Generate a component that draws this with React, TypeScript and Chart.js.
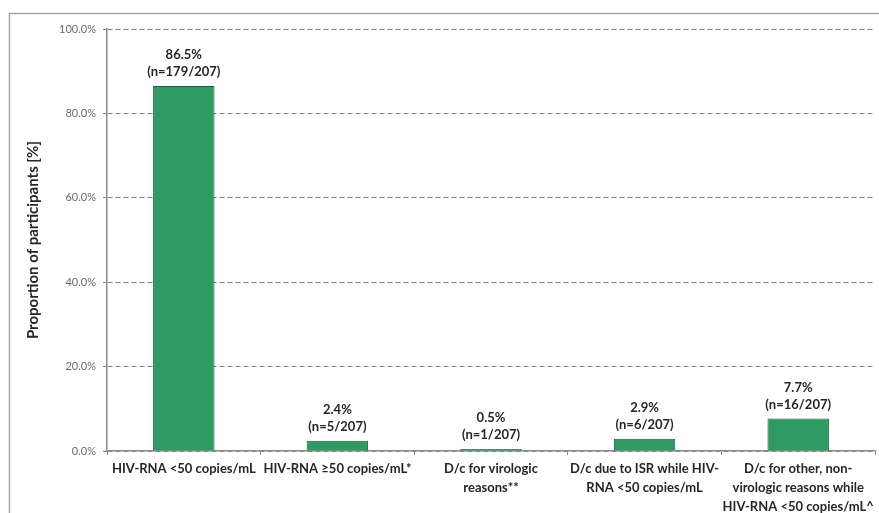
import React, { useEffect, useRef } from "react";
import { Chart, registerables } from "chart.js";

Chart.register(...registerables);

// Outcome categories (multi-line axis labels)
const categories: string[][] = [
  ["HIV-RNA <50 copies/mL"],
  ["HIV-RNA \u226550 copies/mL*"],
  ["D/c for virologic", "reasons**"],
  ["D/c due to ISR while HIV-", "RNA <50 copies/mL"],
  ["D/c for other, non-", "virologic reasons while", "HIV-RNA <50 copies/mL^"],
];

// Proportion of participants (%) and participant counts
const percentages: number[] = [86.5, 2.4, 0.5, 2.9, 7.7];
const counts: number[] = [179, 5, 1, 6, 16];
const totalN = 207;

const yTicks: number[] = [0, 20, 40, 60, 80, 100];

const FONT = "Lato, 'Open Sans', sans-serif";

// Two-line value labels above each bar: "86.5%" / "(n=179/207)"
const barLabelPlugin = {
  id: "barLabels",
  afterDatasetsDraw(chart: any) {
    const { ctx } = chart;
    const meta = chart.getDatasetMeta(0);
    ctx.save();
    ctx.font = `bold 13px ${FONT}`;
    ctx.fillStyle = "#262626";
    ctx.textAlign = "center";
    ctx.textBaseline = "middle";
    meta.data.forEach((bar: any, i: number) => {
      const x = bar.x;
      const top = bar.y;
      ctx.fillText(`${percentages[i].toFixed(1)}%`, x, top - 31);
      ctx.fillText(`(n=${counts[i]}/${totalN})`, x, top - 14);
    });
    ctx.restore();
  },
};

// Light frame around the whole figure
const framePlugin = {
  id: "frame",
  beforeDraw(chart: any) {
    const { ctx } = chart;
    ctx.save();
    ctx.strokeStyle = "#a6a6a6";
    ctx.lineWidth = 1.5;
    ctx.strokeRect(9.5, 13.5, 1200, 1200);
    ctx.restore();
  },
};

export default function App() {
  const canvasRef = useRef<HTMLCanvasElement | null>(null);

  useEffect(() => {
    if (!canvasRef.current) return;
    const chart = new Chart(canvasRef.current, {
      type: "bar",
      data: {
        labels: categories,
        datasets: [
          {
            data: percentages,
            backgroundColor: "#2f9a63",
            borderColor: "#1d5e3b",
            borderWidth: 1,
            barPercentage: 0.8,
            categoryPercentage: 0.5,
          },
        ],
      },
      options: {
        responsive: false,
        animation: false,
        devicePixelRatio: 1,
        layout: { padding: { top: 29, right: 4, left: 0, bottom: 0 } },
        plugins: {
          legend: { display: false },
          tooltip: { enabled: false },
        },
        scales: {
          x: {
            grid: {
              drawOnChartArea: false,
              drawTicks: true,
              tickLength: 4,
              color: "#8c8c8c",
            },
            border: { display: true, color: "#8c8c8c", width: 1.5 },
            ticks: {
              padding: 4,
              color: "#262626",
              font: { family: FONT, size: 13, weight: "bold", lineHeight: 1.46 },
              maxRotation: 0,
              autoSkip: false,
            },
            afterFit(scale: any) {
              scale.height = 513 - 451;
            },
          },
          y: {
            min: 0,
            max: 100,
            afterBuildTicks(scale: any) {
              scale.ticks = yTicks.map((v) => ({ value: v }));
            },
            grid: {
              color: "#808080",
              lineWidth: 1,
              tickLength: 4,
            },
            border: { display: true, color: "#8c8c8c", width: 1.5, dash: [5, 3] },
            ticks: {
              padding: 7,
              color: "#6b6b6b",
              font: { family: FONT, size: 11 },
              callback: (v: any) => `${Number(v).toFixed(1)}%`,
            },
            title: {
              display: true,
              text: "Proportion of participants [%]",
              color: "#262626",
              font: { family: FONT, size: 15, weight: "bold" },
              padding: { top: 24, bottom: 0 },
            },
            afterFit(scale: any) {
              scale.width = 107;
            },
          },
        },
      },
      plugins: [framePlugin, barLabelPlugin],
    });
    return () => chart.destroy();
  }, []);

  return (
    <div style={{ position: "absolute", left: 0, top: 0, width: 879, height: 513, background: "#fff" }}>
      <canvas ref={canvasRef} width={879} height={513} />
    </div>
  );
}
